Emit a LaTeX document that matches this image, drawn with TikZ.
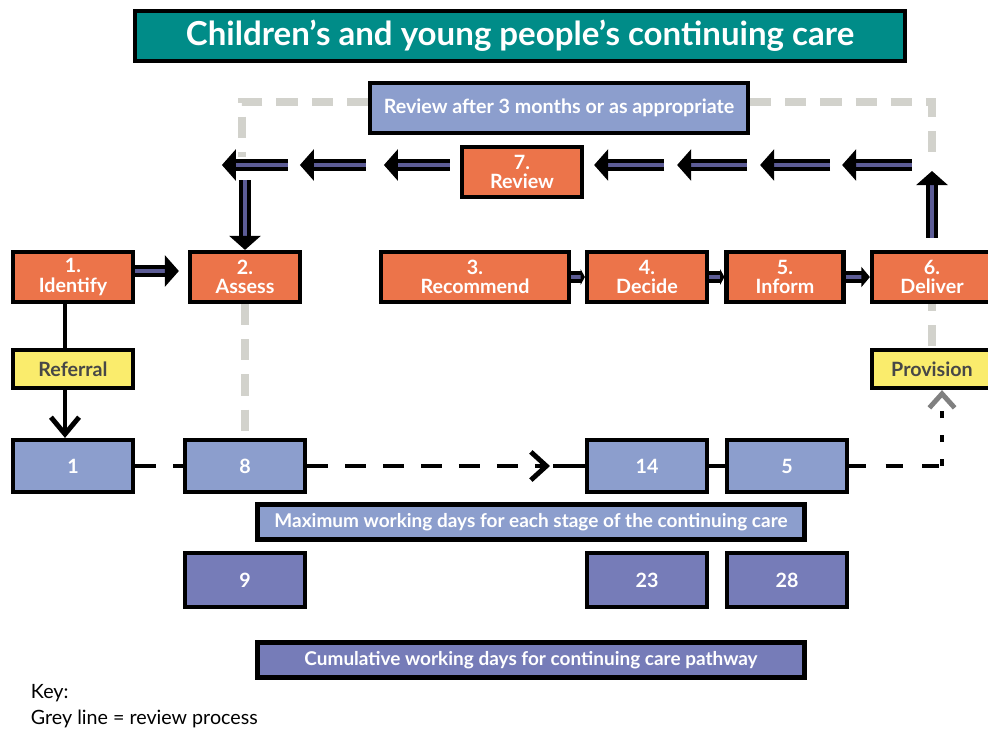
\documentclass[tikz,border=0pt]{standalone}
\usepackage{fontspec}
\setmainfont{Lato}
\usetikzlibrary{arrows.meta,calc}

\definecolor{careteal}{RGB}{0,140,136}
\definecolor{stageorange}{RGB}{236,116,74}
\definecolor{dayblue}{RGB}{140,158,205}
\definecolor{cumblue}{RGB}{118,124,184}
\definecolor{notefill}{RGB}{250,236,108}
\definecolor{reviewgrey}{RGB}{210,210,204}
\definecolor{arrowcore}{RGB}{92,92,150}

\newdimen\pix \pix=0.025cm

\tikzset{
  box/.style={draw=black, line width=3pt, inner sep=0pt, align=center, text=white,
    font=\bfseries\fontsize{14}{14}\selectfont},
  stage/.style={box, fill=stageorange, minimum height=50\pix},
  daybox/.style={box, fill=dayblue, minimum width=120\pix, minimum height=52\pix},
  cumbox/.style={box, fill=cumblue, minimum width=120\pix, minimum height=54\pix},
  notebox/.style={box, fill=notefill, text=black!72, minimum width=120\pix, minimum height=38\pix},
  barbox/.style={box, minimum width=547\pix, minimum height=35\pix,
    font=\bfseries\fontsize{13.5}{14}\selectfont},
  blockarrow/.style={draw=black, line width=3pt, double=arrowcore, double distance=2.2pt,
    -{Triangle[length=10pt,width=22pt]}},
  blackdash/.style={line width=3.5pt, dash pattern=on 15pt off 12pt},
  greydash/.style={draw=reviewgrey, line width=5pt, dash pattern=on 15pt off 10pt},
}

\begin{document}
\begin{tikzpicture}[x=0.025cm, y=-0.025cm]
  \useasboundingbox (0,0) rectangle (988,733);

  % heading
  \node[box, fill=careteal, minimum width=770\pix, minimum height=50\pix,
        font=\bfseries\fontsize{23.5}{26}\selectfont] (title) at (520,36)
        {Children's and young people's continuing care};

  % review loop
  \node[box, fill=dayblue, minimum width=378\pix, minimum height=50\pix] (revbox) at (559,108)
        {Review after 3 months or as appropriate};
  \node[stage, minimum width=120\pix] (review) at (522,172) {7.\\Review};

  % stages
  \node[stage, minimum width=120\pix] (identify) at (73,277) {1.\\Identify};
  \node[stage, minimum width=110\pix] (assess) at (245,277) {2.\\Assess};
  \node[stage, minimum width=188\pix] (recommend) at (475,277) {3.\\Recommend};
  \node[stage, minimum width=120\pix] (decide) at (647,277) {4.\\Decide};
  \node[stage, minimum width=117\pix] (inform) at (785,277) {5.\\Inform};
  \node[stage, minimum width=120\pix] (deliver) at (932,277) {6.\\Deliver};

  \node[notebox] (referral) at (73,369) {Referral};
  \node[notebox] (provision) at (932,369) {Provision};

  % working days per stage
  \node[daybox] (d1) at (73,466) {1};
  \node[daybox] (d8) at (245,466) {8};
  \node[daybox] (d14) at (647,466) {14};
  \node[daybox] (d5) at (787,466) {5};
  \node[barbox, fill=dayblue] (maxbar) at (531,522)
        {Maximum working days for each stage of the continuing care};

  % cumulative days
  \node[cumbox] (c9) at (245,580) {9};
  \node[cumbox] (c23) at (647,580) {23};
  \node[cumbox] (c28) at (787,580) {28};
  \node[barbox, fill=cumblue] (cumbar) at (531,660)
        {Cumulative working days for continuing care pathway};

  \node[anchor=west, font=\fontsize{14}{16}\selectfont] (key) at (26,693) {Key:};
  \node[anchor=west, font=\fontsize{14}{16}\selectfont] (keyline) at (26,719) {Grey line = review process};

  % grey review path
  \coordinate (gl) at (242,102);
  \coordinate (gr) at (932,102);
  \coordinate (tl) at (242,165);
  \coordinate (tr) at (932,165);
  \draw[greydash] (revbox.west |- gl) -- (gl) -- ($(tl)+(0,-8)$);
  \draw[greydash] (revbox.east |- gr) -- (gr) -- ($(tr)+(0,-8)$);
  \draw[greydash] (assess.south) -- (d8.north);
  \draw[greydash, dash phase=10pt] (deliver.south) -- (provision.north);

  % back arrows along the top
  \foreach \a in {10,93,176,258}
    \draw[blockarrow] ($(review.east |- tr)+(\a+70,0)$) -- ($(review.east |- tr)+(\a,0)$);
  \foreach \a in {10,94,172}
    \draw[blockarrow] ($(review.west |- tl)+(-\a,0)$) -- ($(review.west |- tl)+(-\a-66,0)$);
  \draw[blockarrow] ($(assess.north |- tl)+(0,15)$) -- (assess.north);
  \draw[blockarrow] ($(deliver.north)+(0,-12)$) -- ($(tr)+(0,6)$);

  % forward arrows between stages
  \draw[blockarrow, shorten >=9\pix] ($(identify.east)+(0,-6)$) -- ($(assess.west)+(0,-6)$);
  \draw[blockarrow, -{Triangle[length=3pt,width=11pt]}] (recommend.east) -- (decide.west);
  \draw[blockarrow, -{Triangle[length=3pt,width=11pt]}] (decide.east) -- (inform.west);
  \draw[blockarrow, -{Triangle[length=6pt,width=14pt]}] (inform.east) -- (deliver.west);

  % referral and days line
  \draw[line width=3.5pt] ($(identify.south)+(-8,0)$) -- ($(referral.north)+(-8,0)$);
  \draw[line width=3.5pt, -{Straight Barb[length=12pt,width=20pt]}]
    ($(referral.south)+(-8,0)$) -- ($(d1.north)+(-8,0)$);
  \draw[blackdash] (d1.east) -- (d8.west);
  \coordinate (mid) at (550,466);
  \draw[blackdash, -{Straight Barb[length=11pt,width=20pt]}] (d8.east) -- (mid);
  \draw[line width=3.5pt, shorten <=3\pix] (mid) -- (d14.west);
  \draw[line width=3.5pt] (d14.east) -- (d5.west);
  \coordinate (pc) at (942,466);
  \draw[blackdash, dash pattern=on 12pt off 14pt] (d5.east) -- (pc);
  \draw[line width=3.5pt, dash pattern=on 5pt off 12pt,
        -{Straight Barb[length=10pt,width=18pt,color=gray]}] (pc) -- (provision.south -| pc);
\end{tikzpicture}
\end{document}
